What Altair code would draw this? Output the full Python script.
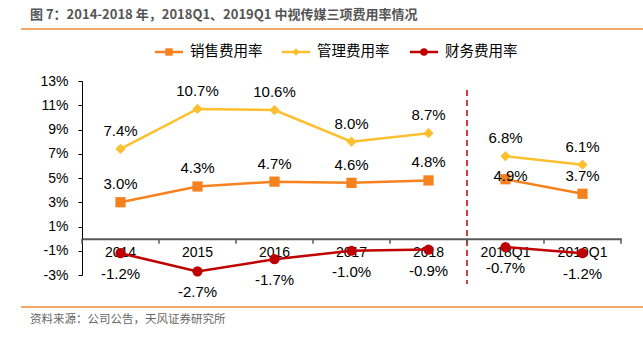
import altair as alt
import pandas as pd

# ---- data ----
categories = ["2014", "2015", "2016", "2017", "2018", "2018Q1", "2019Q1"]
periods = ["年度", "年度", "年度", "年度", "年度", "季度", "季度"]
series_names = ["销售费用率", "管理费用率", "财务费用率"]
sales_rate = [3.0, 4.3, 4.7, 4.6, 4.8, 4.9, 3.7]
admin_rate = [7.4, 10.7, 10.6, 8.0, 8.7, 6.8, 6.1]
finance_rate = [-1.2, -2.7, -1.7, -1.0, -0.9, -0.7, -1.2]
y_ticks = [-3, -1, 1, 3, 5, 7, 9, 11, 13]
divider_category = ["2018Q1"]
title_text = ["图 7：2014-2018 年，2018Q1、2019Q1 中视传媒三项费用率情况"]
source_text = ["资料来源：公司公告，天风证券研究所"]

colors = ["#F5821F", "#FCBF2E", "#C00000"]
shapes = ["square", "diamond", "circle"]

rows = []
for name, vals in zip(series_names, [sales_rate, admin_rate, finance_rate]):
    for c, p, v in zip(categories, periods, vals):
        rows.append({"cat": c, "period": p, "series": name, "v": v})
df = pd.DataFrame(rows)

# whole canvas is the view; the plot occupies [PL, PR] x [PT, PB]
CW, CH = 643, 348
PL, PR, PT, PB = 82, 621, 81, 275
y_dom = [-3, 13]
zero_y = PB - (PB - PT) * (0 - y_dom[0]) / (y_dom[1] - y_dom[0])

FONT = "Liberation Sans"
CJK = "Noto Sans CJK SC"
AXIS_GRAY = "#595959"

x_scale = alt.Scale(type="band", domain=categories, paddingInner=0, paddingOuter=0, range=[PL, PR])
x_axis = alt.Axis(
    title=None, offset=-(CH - zero_y), labelAngle=0, ticks=False,
    domainColor=AXIS_GRAY, domainWidth=2, labelAlign="center",
    labelBaseline="top", labelPadding=7, labelFontSize=14, labelFont=FONT,
    labelColor="black", grid=False, labelOverlap=False,
)
y_scale = alt.Scale(domain=y_dom, nice=False, zero=False, range=[PB, PT])
y_axis = alt.Axis(
    title=None, values=y_ticks, labelExpr="datum.value + '%'", offset=-PL,
    domainColor="black", tickColor="black", tickSize=4, labelPadding=10,
    labelFontSize=14, labelFont=FONT, labelColor="black", grid=False,
    labelOverlap=False,
)
x_enc = alt.X("cat:N", sort=categories, scale=x_scale, axis=x_axis)
y_enc = alt.Y("v:Q", scale=y_scale, axis=y_axis)
color_scale = alt.Scale(domain=series_names, range=colors)
shape_scale = alt.Scale(domain=series_names, range=shapes)

base = alt.Chart(df).encode(x=x_enc, y=y_enc)

lines = base.mark_line(strokeWidth=2.5).encode(
    color=alt.Color("series:N", scale=color_scale, legend=None),
    detail="period:N",
)
points = base.mark_point(filled=True, opacity=1).encode(
    color=alt.Color("series:N", scale=color_scale, legend=None),
    shape=alt.Shape("series:N", scale=shape_scale, legend=None),
    size=alt.value(105),
)

# axis ticks at band boundaries, hanging below the zero line
tick_kw = dict(shape="M0,0L0,1", size=100, filled=False, stroke=AXIS_GRAY, strokeWidth=1.5, opacity=1)
cat_df = pd.DataFrame({"cat": categories})
ticks_start = alt.Chart(cat_df).mark_point(**tick_kw).encode(
    x=alt.X("cat:N", sort=categories, scale=x_scale, axis=x_axis, bandPosition=0),
    y=alt.YDatum(0, scale=y_scale, axis=y_axis),
)
ticks_end = alt.Chart(pd.DataFrame({"cat": categories[-1:]})).mark_point(**tick_kw).encode(
    x=alt.X("cat:N", sort=categories, scale=x_scale, axis=x_axis, bandPosition=1),
    y=alt.YDatum(0, scale=y_scale, axis=y_axis),
)

labels = base.transform_calculate(
    lab="(datum.v < 0 ? '-' : '') + format(abs(datum.v), '.1f') + '%'"
)
txt_kw = dict(font=FONT, fontSize=15, color="black", baseline="middle")
lab_above = labels.mark_text(dy=-18, **txt_kw).encode(text="lab:N").transform_filter(
    "(datum.series == '管理费用率') || (datum.series == '销售费用率' && datum.cat != '2018Q1')"
)
lab_special = labels.mark_text(dy=-3, dx=5, **txt_kw).encode(text="lab:N").transform_filter(
    "datum.series == '销售费用率' && datum.cat == '2018Q1'"
)
lab_below = labels.mark_text(dy=21, **txt_kw).encode(text="lab:N").transform_filter(
    "datum.series == '财务费用率'"
)

divider = alt.Chart(pd.DataFrame({"cat": divider_category})).mark_rule(
    color="#C00000", strokeWidth=1.5, strokeDash=[6, 4]
).encode(
    x=alt.X("cat:N", sort=categories, scale=x_scale, axis=x_axis, bandPosition=0),
    y=alt.value(90), y2=alt.value(284),
)

# ---- manual legend (line + marker + label) ----
legend_x = [155, 282, 410]
legend_y = 52
legend_layers = []
for name, col, shp, lx in zip(series_names, colors, shapes, legend_x):
    ldf = pd.DataFrame({"series": [name]})
    legend_layers.append(
        alt.Chart(ldf).mark_rule(color=col, strokeWidth=2.5).encode(
            x=alt.value(lx), x2=alt.value(lx + 28), y=alt.value(legend_y)
        )
    )
    legend_layers.append(
        alt.Chart(ldf).mark_point(shape=shp, filled=True, color=col, size=55, opacity=1).encode(
            x=alt.value(lx + 14), y=alt.value(legend_y)
        )
    )
    legend_layers.append(
        alt.Chart(ldf).mark_text(font=CJK, fontSize=14.5, color="black", align="left", baseline="middle").encode(
            text="series:N", x=alt.value(lx + 35), y=alt.value(legend_y)
        )
    )

title = alt.Chart(pd.DataFrame({"t": title_text})).mark_text(
    font=CJK, fontSize=13, fontWeight="bold", color="#555555", align="left", baseline="middle"
).encode(text="t:N", x=alt.value(30), y=alt.value(15))
source = alt.Chart(pd.DataFrame({"t": source_text})).mark_text(
    font=CJK, fontSize=11.5, color="#666666", align="left", baseline="middle"
).encode(text="t:N", x=alt.value(30), y=alt.value(320))
top_line = alt.Chart(pd.DataFrame({"t": [0]})).mark_rule(color="#F08A3A", strokeWidth=1.5).encode(
    x=alt.value(21), x2=alt.value(643), y=alt.value(29)
)
bottom_line = alt.Chart(pd.DataFrame({"t": [0]})).mark_rule(color="#F08A3A", strokeWidth=1.5).encode(
    x=alt.value(21), x2=alt.value(643), y=alt.value(307)
)

chart = alt.layer(
    divider, ticks_start, ticks_end, lines, points,
    lab_above, lab_special, lab_below,
    *legend_layers, title, source, top_line, bottom_line,
).properties(
    width=CW, height=CH,
    autosize=alt.AutoSizeParams(type="none"),
    padding=0,
    background="white",
).configure_view(stroke=None)

chart.save("out.html", embed_options={"renderer": "svg", "actions": False})
